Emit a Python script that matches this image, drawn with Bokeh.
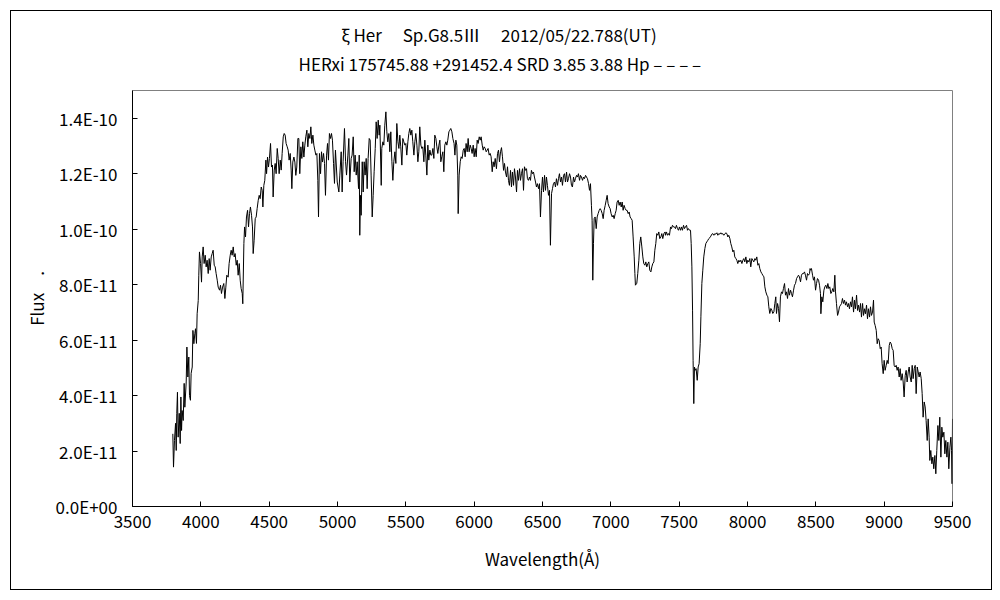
from bokeh.plotting import figure
from bokeh.models import Range1d, FixedTicker, ColumnDataSource, Title
from bokeh.embed import file_html
from bokeh.resources import INLINE

# ---------------- data (flux in units of 1e-11) ----------------
wl_blue = [3795,3800,3807,3815,3820,3824,3829,3834,3842,3849,
           3854,3859,3863,3871,3878,3883,3893,3898,3905,3912,
           3917,3924,3929,3937,3942,3949,3956,3961,3968,3973,
           3981,3985,3990,3998,4005,4010,4017,4024,4032,4039,
           4046,4054,4061,4068,4076,4083,4090,4098,4105,4112,
           4120,4127,4137,4144,4151,4159,4168,4176,4183,4190,
           4200,4207,4215,4222,4229,4237,4244,4251,4259,4266,
           4273,4281,4288,4295,4303,4307,4315,4320,4327,4334,
           4342,4349,4356,4363,4371,4378,4383,4390,4398,4405,
           4412,4420,4427,4434,4442,4449,4454,4461,4468,4476,
           4481,4488,4495,4502,4510,4517,4524,4529,4537,4544,
           4551,4559,4566,4573,4581,4588,4595,4603,4610,4617,
           4624,4632,4639,4646,4654,4661,4666,4673,4681,4688,
           4695,4702,4710,4717,4724,4732,4739,4746,4754,4761,
           4768,4776,4783,4790,4798,4805,4812,4820,4827,4834,
           4842,4849,4856,4861,4868,4876,4883,4890,4898,4905,
           4912,4920,4927,4934,4941,4949,4956,4963,4971,4978,
           4985]
fx_blue = [2.62,1.42,2.38,3.00,2.02,3.36,4.12,2.50,3.36,2.27,
           3.95,2.74,3.46,3.10,4.44,3.58,4.49,5.75,4.67,5.39,
           4.00,3.83,4.80,5.03,6.35,5.87,6.23,6.41,5.88,6.95,
           7.43,8.34,9.18,8.76,8.09,9.00,9.36,8.76,9.06,8.64,
           8.88,8.40,8.94,8.52,9.00,9.12,9.24,8.70,8.64,8.40,
           8.16,7.91,7.80,7.98,7.68,7.91,8.04,7.50,7.91,8.34,
           8.27,8.76,9.06,9.24,9.06,9.36,9.00,9.12,8.70,8.88,
           8.34,8.76,8.16,7.86,7.68,7.31,9.48,10.08,9.72,10.44,
           10.68,10.08,10.56,10.80,10.50,10.08,9.12,9.60,10.38,10.44,
           10.74,11.04,11.22,11.10,11.52,11.40,10.80,11.58,11.76,12.49,
           12.00,12.60,12.24,12.55,13.09,12.24,12.31,11.16,12.13,12.37,
           12.00,12.91,12.55,12.00,12.49,12.13,12.73,13.33,13.45,13.39,
           13.09,12.97,12.85,12.49,12.73,12.13,11.46,12.42,12.60,12.42,
           11.94,12.24,13.27,13.27,12.00,12.97,12.55,13.15,12.60,13.03,
           13.33,13.57,12.97,13.45,13.27,13.69,13.09,13.39,13.03,12.85,
           12.67,12.73,11.76,10.44,12.73,12.00,12.79,12.42,12.73,12.37,
           11.22,12.67,13.09,12.49,13.45,13.27,13.45,13.21,12.37,11.65,
           12.85]

wl_green = [4998,5010,5017,5027,5034,5041,5051,5059,5066,5076,
            5083,5090,5100,5107,5115,5122,5129,5137,5144,5154,
            5159,5163,5168,5173,5181,5188,5195,5202,5210,5217,
            5224,5232,5239,5246,5254,5261,5268,5276,5283,5290,
            5298,5305,5310,5320,5324,5332,5339,5346,5354,5361,
            5368,5376,5383,5390,5398,5405,5412,5420,5427,5434,
            5442,5449,5456,5463,5471,5478,5485,5493,5500,5507,
            5515,5522,5529,5537,5544,5551,5559,5566,5573,5581,
            5588,5595,5602,5610,5617,5624,5632,5639,5646,5654,
            5661,5668,5676,5683,5690,5698,5705,5712,5720,5727,
            5734,5742,5749,5756,5763,5771,5778,5785,5793,5800,
            5807,5815,5822,5829,5837,5844,5853,5859,5866,5873,
            5880,5883,5890,5898,5905,5912,5920,5927,5934,5941,
            5949,5956,5963,5971,5978,5985,5993,6000,6007,6015,
            6022,6029,6037,6044,6051,6059,6066,6073,6081,6088,
            6095,6102,6110,6117,6124,6132,6139,6146,6154]
fx_green = [11.70,11.34,11.95,12.79,11.34,12.43,13.63,12.43,11.95,12.67,
            13.27,11.70,12.55,12.67,13.33,12.07,12.67,11.95,12.43,11.46,
            12.67,9.78,11.22,10.50,12.43,11.34,12.43,11.95,12.55,11.46,
            12.55,13.27,13.21,11.95,10.44,11.22,12.07,12.91,13.87,13.27,
            13.93,13.39,13.75,11.58,12.91,13.15,13.03,13.75,14.23,13.51,
            13.15,13.45,12.79,13.51,12.43,11.76,12.43,12.79,12.37,13.81,
            13.15,12.91,13.39,12.97,12.31,13.27,13.15,13.03,13.09,12.67,
            13.15,13.45,13.63,13.39,13.57,13.15,12.67,13.15,13.45,13.03,
            12.43,12.79,13.69,13.03,12.91,12.97,12.43,13.21,12.67,11.95,
            13.03,12.49,12.85,12.67,12.67,12.91,12.55,13.39,13.27,12.97,
            12.73,13.03,13.21,12.43,12.61,12.79,12.07,13.03,13.15,13.03,
            13.21,13.51,13.57,13.63,13.51,13.27,13.09,12.67,13.21,13.03,
            11.95,10.56,11.95,12.43,12.61,12.55,12.85,12.91,12.61,13.09,
            12.79,13.27,12.79,13.03,12.91,12.73,13.03,12.61,12.91,12.61,
            13.21,13.09,13.33,13.21,13.33,13.03,12.85,12.97,12.91,12.79,
            12.85,12.91,12.67,12.73,12.61,12.07,12.43,12.25,12.55]

wl_red = [6163,6171,6178,6185,6193,6200,6207,6215,6222,6229,
          6237,6244,6251,6258,6266,6273,6280,6288,6295,6302,
          6310,6317,6324,6332,6339,6346,6354,6361,6368,6376,
          6383,6390,6397,6405,6412,6419,6427,6434,6441,6449,
          6456,6463,6471,6478,6485,6493,6500,6507,6515,6522,
          6529,6536,6544,6551,6558,6566,6573,6580,6588,6595,
          6602,6610,6617,6624,6632,6639,6646,6654,6661,6668,
          6676,6683,6690,6698,6705,6712,6719,6727,6734,6741,
          6749,6756,6763,6771,6778,6785,6793,6800,6807,6815,
          6822,6829,6837,6844,6851,6858,6863,6868,6873,6878,
          6885,6893,6900,6907,6915,6922,6929,6937,6944,6951,
          6959,6966,6973,6980,6988,6995,7002,7010,7017,7024,
          7032,7039,7046,7054,7061,7068,7076,7083,7090,7097,
          7105,7112,7119,7127,7134,7141,7149,7156,7163,7171,
          7176,7180,7190,7197,7205,7212,7219,7227,7234,7241,
          7249,7256,7263,7271,7278,7285,7293,7300,7307,7315,
          7322,7329,7336,7344,7351,7358,7366,7373,7380,7388,
          7397]
fx_red = [12.18,12.73,12.85,12.43,12.79,12.94,12.61,12.12,12.37,12.06,
          11.88,12.25,11.76,11.58,12.12,11.52,12.06,11.58,12.18,11.88,
          11.34,12.12,11.76,12.18,11.76,12.00,12.18,11.40,12.25,12.12,
          12.18,11.82,11.76,11.88,11.76,12.12,12.00,12.06,11.88,11.70,
          11.52,11.64,11.46,11.64,10.44,11.40,11.88,11.34,11.94,11.40,
          11.88,11.58,11.22,11.40,9.42,11.28,11.46,11.64,11.70,11.52,
          11.82,11.58,11.82,12.00,11.70,11.88,11.58,11.94,12.00,11.70,
          12.06,11.70,11.82,12.00,11.88,11.58,11.52,11.88,11.70,11.82,
          11.94,11.88,12.00,11.76,11.94,11.88,11.76,11.88,11.82,11.94,
          11.88,11.82,11.64,11.40,11.64,10.86,10.32,8.16,9.48,10.38,
          10.44,10.02,10.44,10.56,10.68,10.74,10.68,10.56,10.38,10.68,
          10.86,11.04,11.22,10.92,10.80,10.74,10.56,10.44,10.50,10.38,
          10.56,10.68,10.98,11.04,10.86,10.98,10.80,10.98,10.68,10.86,
          10.74,10.68,10.68,10.56,10.62,10.44,10.38,10.32,9.72,9.00,
          8.40,7.98,8.05,8.40,8.88,9.48,9.72,9.36,9.00,8.76,
          8.70,8.82,8.64,8.76,8.82,8.52,8.46,8.64,8.76,8.82,
          9.24,9.48,9.84,9.78,9.90,9.66,9.72,9.84,9.66,9.84,
          9.90]

wl_far = [7400,7407,7415,7422,7429,7437,7444,7451,7459,7466,
          7473,7480,7488,7495,7502,7510,7517,7524,7532,7539,
          7546,7554,7561,7568,7576,7583,7588,7593,7598,7602,
          7607,7612,7617,7624,7632,7639,7646,7654,7659,7666,
          7673,7680,7688,7695,7702,7710,7717,7724,7732,7739,
          7746,7754,7761,7768,7776,7783,7790,7798,7805,7812,
          7819,7827,7834,7841,7849,7856,7863,7871,7878,7885,
          7893,7900,7907,7915,7922,7929,7937,7944,7951,7959,
          7966,7973,7980,7988,7995,8002,8010,8017,8024,8032,
          8039,8046,8054,8061,8068,8076,8083,8090,8098,8105,
          8112,8120,8127,8134,8142,8149,8156,8163,8171,8178,
          8185,8193,8200,8207,8212,8220,8227,8234,8241,8249,
          8256,8263,8271,8278,8285,8293,8300,8307,8315,8322,
          8329,8337,8344,8351,8359,8366,8373,8380,8388,8395,
          8402,8410,8417,8424,8432,8439,8446,8454,8458]
fx_far = [9.78,9.90,9.78,9.84,9.78,10.08,10.02,10.14,10.08,10.08,
          10.02,10.14,10.02,9.96,10.08,9.96,10.08,9.96,10.14,10.02,
          10.08,10.14,9.96,10.02,9.96,9.96,9.48,8.64,7.08,5.27,
          3.71,5.03,4.91,4.97,4.55,5.03,5.15,5.87,6.84,8.04,
          8.52,9.00,9.30,9.48,9.54,9.60,9.66,9.69,9.75,9.82,
          9.84,9.78,9.84,9.82,9.87,9.78,9.84,9.82,9.87,9.82,
          9.84,9.78,9.82,9.87,9.84,9.72,9.78,9.66,9.48,9.36,
          9.18,9.24,9.00,8.94,8.88,8.76,8.88,8.82,8.88,8.76,
          8.88,8.94,8.82,9.00,8.76,8.88,8.82,8.94,8.64,8.94,
          8.88,8.82,8.94,8.88,9.00,8.70,8.76,8.58,8.46,8.40,
          8.34,8.28,7.92,7.74,7.62,7.56,7.20,6.96,7.14,7.08,
          6.96,7.02,7.32,7.56,6.96,7.32,7.14,6.66,7.56,7.74,
          7.68,7.86,8.04,7.62,7.74,7.50,7.86,7.62,7.80,7.68,
          7.56,7.80,7.98,8.04,8.22,8.28,8.34,8.28,8.10,8.34,
          8.40,8.40,8.46,8.34,8.16,8.40,8.34,8.40,8.58]

wl_nir = [8461,8468,8476,8483,8490,8498,8505,8512,8520,8527,
          8534,8537,8544,8551,8559,8566,8573,8581,8588,8595,
          8602,8610,8617,8624,8632,8639,8644,8651,8659,8666,
          8673,8681,8688,8695,8702,8710,8717,8724,8732,8739,
          8746,8754,8761,8768,8776,8783,8790,8798,8805,8812,
          8820,8827,8834,8842,8849,8856,8863,8871,8878,8885,
          8893,8900,8907,8915,8922,8927,8934,8942,8949,8956,
          8963,8971,8978,8985,8993,9000,9007,9015,9022,9029,
          9037,9044,9051,9059,9066,9073,9080,9088,9095,9102,
          9110,9117,9124,9132,9139,9146,9154,9161,9168,9176,
          9183,9190,9198,9205,9212,9220,9227,9234,9242,9249,
          9256,9263,9271,9278,9285,9293,9300,9307,9315,9322,
          9329,9334,9341,9349,9356,9363,9371,9378,9385,9393,
          9400,9407,9415,9422,9429,9437,9444,9451,9459,9466,
          9473,9481,9488,9493,9497,9500]
fx_nir = [8.52,8.58,8.34,8.16,8.28,7.80,8.04,8.22,8.16,7.98,
          7.68,6.95,7.56,7.38,7.80,7.92,7.98,7.86,8.04,7.86,
          7.92,7.68,7.74,7.86,7.74,8.34,7.74,7.32,6.89,7.01,
          7.20,7.26,7.32,7.50,7.32,7.44,7.26,7.38,7.20,7.32,
          7.13,7.38,7.20,7.56,7.01,7.44,7.13,7.62,7.07,7.26,
          7.01,7.32,6.83,7.32,6.89,7.13,6.95,7.26,6.77,7.13,
          6.83,7.20,6.89,7.01,7.44,6.65,6.53,6.35,5.87,6.05,
          5.99,5.69,5.75,5.15,4.79,5.27,4.91,5.09,5.27,5.15,
          5.81,5.93,5.87,5.69,5.63,5.09,5.03,5.09,4.91,5.03,
          4.67,4.97,4.55,4.79,4.49,3.95,4.73,4.91,4.49,4.85,
          5.03,4.67,4.49,5.09,4.61,4.97,5.09,4.07,5.03,4.85,
          4.67,4.85,4.61,4.07,3.22,3.77,3.59,3.10,2.38,3.16,
          2.50,1.66,2.02,1.54,1.78,1.36,1.84,1.18,2.02,2.92,
          2.38,3.22,1.78,2.86,2.50,2.68,1.90,2.38,1.78,2.32,
          1.36,2.14,2.50,2.02,0.82,3.16]

x_ticks = [3500, 4000, 4500, 5000, 5500, 6000, 6500, 7000, 7500, 8000, 8500, 9000, 9500]
x_tick_labels = ["3500", "4000", "4500", "5000", "5500", "6000", "6500",
                 "7000", "7500", "8000", "8500", "9000", "9500"]
y_ticks = [0.0, 2e-11, 4e-11, 6e-11, 8e-11, 1e-10, 1.2e-10, 1.4e-10]
y_tick_labels = ["0.0E+00", "2.0E-11", "4.0E-11", "6.0E-11", "8.0E-11",
                 "1.0E-10", "1.2E-10", "1.4E-10"]

title_line1 = "ξ Her\u3000 Sp.G8.5Ⅲ\u3000 2012/05/22.788(UT)"
title_line2 = "HERxi 175745.88 +291452.4 SRD 3.85 3.88 Hp – – – –"
x_title = "Wavelength(Å)"
y_title = "Flux\u3000."

# ---------------- figure ----------------
wavelength = wl_blue + wl_green + wl_red + wl_far + wl_nir
flux = [v * 1e-11 for v in (fx_blue + fx_green + fx_red + fx_far + fx_nir)]
src = ColumnDataSource(data=dict(wl=wavelength, flux=flux))

FONT = "Noto Sans CJK JP"
FS = "17px"

p = figure(frame_width=820, frame_height=416,
           x_range=Range1d(3500, 9500), y_range=Range1d(0, 1.5e-10),
           output_backend="svg", toolbar_location=None,
           min_border_left=121, min_border_right=39,
           min_border_top=79, min_border_bottom=83)
p.margin = (11, 0, 0, 11)
p.styles = {"outline": "1px solid black", "outline-offset": "0px"}

p.background_fill_color = "white"
p.border_fill_color = "white"
p.outline_line_color = "#808080"
p.outline_line_width = 1
p.xgrid.visible = False
p.ygrid.visible = False

for ax in (p.xaxis[0], p.yaxis[0]):
    ax.axis_line_color = "black"
    ax.axis_line_width = 1
    ax.major_tick_line_color = "black"
    ax.major_tick_in = 5
    ax.major_tick_out = 0
    ax.minor_tick_in = 0
    ax.minor_tick_out = 0
    ax.major_label_text_font = FONT
    ax.major_label_text_font_size = FS
    ax.major_label_text_color = "black"
    ax.axis_label_text_font = FONT
    ax.axis_label_text_font_size = FS
    ax.axis_label_text_font_style = "normal"
    ax.axis_label_text_color = "black"

p.xaxis.ticker = FixedTicker(ticks=x_ticks, minor_ticks=[])
p.xaxis.major_label_overrides = dict(zip(x_ticks, x_tick_labels))
p.xaxis.major_label_standoff = 8
p.xaxis.axis_label = x_title
p.xaxis.axis_label_standoff = 15

p.yaxis.ticker = FixedTicker(ticks=y_ticks, minor_ticks=[])
p.yaxis.major_label_overrides = dict(zip(y_ticks, y_tick_labels))
p.yaxis.major_label_standoff = 15
p.yaxis.axis_label = y_title
p.yaxis.axis_label_standoff = 4

p.line(x="wl", y="flux", source=src, line_color="black", line_width=1)

# titles: the first added sits next to the frame; the standoffs set the gaps
p.add_layout(Title(text=title_line2, align="left", offset=166, standoff=30,
                   text_font=FONT, text_font_size=FS, text_font_style="normal",
                   text_color="black"), "above")
p.add_layout(Title(text=title_line1, align="left", offset=209, standoff=-26,
                   text_font=FONT, text_font_size=FS, text_font_style="normal",
                   text_color="black"), "above")

open("out.html", "w").write(file_html(p, INLINE))
